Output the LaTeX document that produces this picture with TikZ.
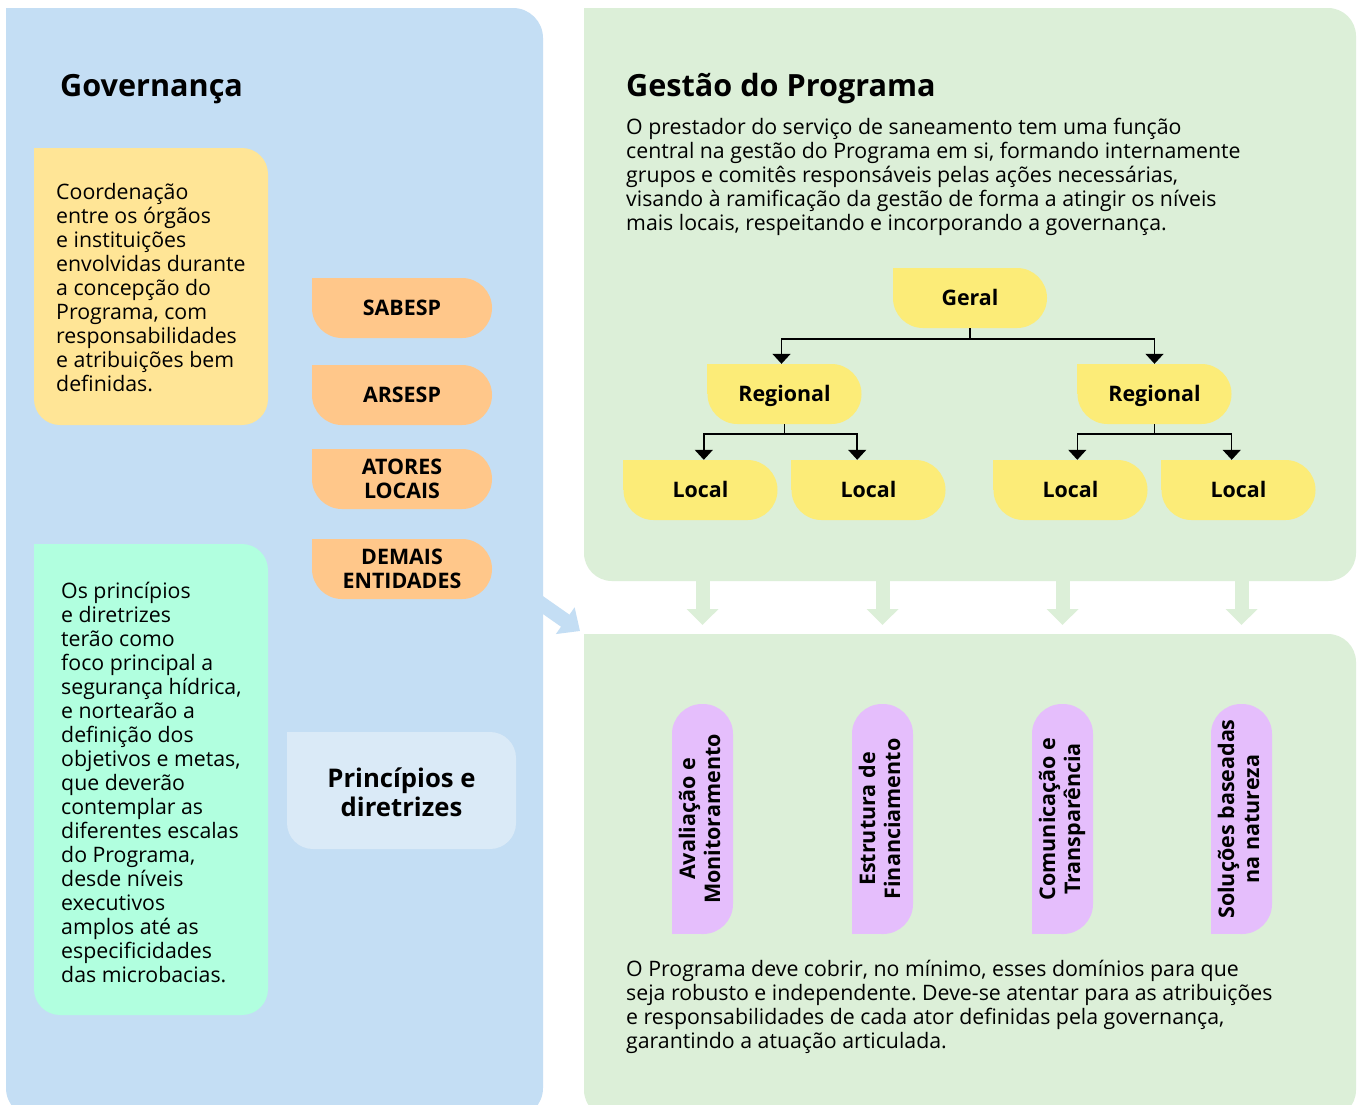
\documentclass[tikz,border=0pt]{standalone}
\usepackage{fontspec}
\usepackage{graphicx}
\setmainfont{Open Sans}
\usetikzlibrary{arrows.meta}
\frenchspacing

\definecolor{govblue}{HTML}{C4DEF4}
\definecolor{gestgreen}{HTML}{DCEFD8}
\definecolor{coordyellow}{HTML}{FFE596}
\definecolor{actororange}{HTML}{FFC78A}
\definecolor{princmint}{HTML}{B1FFDF}
\definecolor{princlight}{HTML}{DAEAF7}
\definecolor{treeyellow}{HTML}{FCEC78}
\definecolor{domainviolet}{HTML}{E5BEFC}

% panels at the back, square corner patches under the rounded node fills
\pgfdeclarelayer{panels}
\pgfdeclarelayer{corners}
\pgfsetlayers{panels,corners,main}

% rounded box whose top-left corner stays square
\newcommand{\sqtlbox}[6]{%
  \fill[#1, rounded corners=#6] (#2,#3) rectangle (#4,#5);
  \fill[#1] (#2,#3) rectangle ++(#6,#6);}

\tikzset{
  bodytext/.style={font=\fontsize{21.3}{24}\selectfont, align=left, inner sep=0, anchor=north west},
  heading/.style={font=\fontsize{30.6}{36}\selectfont\bfseries, inner sep=0, anchor=base west},
  boldlabel/.style={font=\fontsize{21.4}{24}\selectfont\bfseries, align=center, inner sep=0},
  actorpill/.style={boldlabel, fill=actororange, rounded corners=30, minimum width=180, minimum height=60},
  tierbox/.style={boldlabel, fill=treeyellow, rounded corners=30, minimum width=154, minimum height=60, text height=15.4, text depth=0},
  domainpill/.style={boldlabel, font=\fontsize{21.5}{25}\selectfont\bfseries, fill=domainviolet, rounded corners=30, minimum width=61, minimum height=230},
  conn/.style={draw=black, line width=1.5, -{Triangle[length=10,width=18]}},
  garrow/.style={draw=gestgreen, line width=14, -{Triangle[length=16,width=31]}},
  barrow/.style={draw=govblue, line width=14.7, -{Triangle[length=18,width=31.5]}},
}

\begin{document}
\begin{tikzpicture}[x=1pt,y=-1pt]
\useasboundingbox (0,0) rectangle (1362,1104);

% ---- panels ----
\begin{pgfonlayer}{panels}
\clip (0,0) rectangle (1362,1104);
\fill[white] (0,0) rectangle (1362,1104);
\sqtlbox{govblue}{6}{8}{543}{1118}{30}
\sqtlbox{gestgreen}{584}{8}{1356}{581}{28}
\sqtlbox{gestgreen}{584}{634}{1356}{1118}{28}
\end{pgfonlayer}

% ---- Governança ----
\node[heading] (govtitle) at (60,96) {Governança};

\sqtlbox{coordyellow}{34}{148}{268}{425}{26}
\node[bodytext] (coordtext) at (56,183) {Coordenação\\entre os órgãos\\e instituições\\envolvidas durante\\a concepção do\\Programa, com\\responsabilidades\\e atribuições bem\\definidas.};

\node[actorpill] (sabesp) at (402,308) {SABESP};
\node[actorpill] (arsesp) at (402,395) {ARSESP};
\node[actorpill] (atores) at (402,479) {ATORES\\LOCAIS};
\node[actorpill] (demais) at (402,569) {DEMAIS\\ENTIDADES};
\begin{pgfonlayer}{corners}
\foreach \n in {sabesp,arsesp,atores,demais}
  \fill[actororange] (\n.north west) rectangle ++(30,30);
\end{pgfonlayer}

\sqtlbox{princmint}{34}{544}{268}{1015}{26}
\node[bodytext] (princtext) at (61,582) {Os princípios\\e diretrizes\\terão como\\foco principal a\\segurança hídrica,\\e nortearão a\\definição dos\\objetivos e metas,\\que deverão\\contemplar as\\diferentes escalas\\do Programa,\\desde níveis\\executivos\\amplos até as\\especificidades\\das microbacias.};

\sqtlbox{princlight}{287}{732}{516}{849}{26}
\node[font=\fontsize{25.7}{29}\selectfont\bfseries, align=center, inner sep=0] (princ) at (401.5,792) {Princípios e\\diretrizes};

% ---- Gestão do Programa ----
\node[heading] (gesttitle) at (626,96) {Gestão do Programa};
\node[bodytext] (gesttext) at (626,118) {O prestador do serviço de saneamento tem uma função\\central na gestão do Programa em si, formando internamente\\grupos e comitês responsáveis pelas ações necessárias,\\visando à ramificação da gestão de forma a atingir os níveis\\mais locais, respeitando e incorporando a governança.};

\node[tierbox] (geral) at (970,298) {Geral};
\node[tierbox] (regL) at (784.5,394) {Regional};
\node[tierbox] (regR) at (1154.5,394) {Regional};
\node[tierbox] (locA) at (700.5,490) {Local};
\node[tierbox] (locB) at (868.5,490) {Local};
\node[tierbox] (locC) at (1070.5,490) {Local};
\node[tierbox] (locD) at (1238.5,490) {Local};
\begin{pgfonlayer}{corners}
\foreach \n in {geral,regL,regR,locA,locB,locC,locD}
  \fill[treeyellow] (\n.north west) rectangle ++(30,30);
\end{pgfonlayer}

\draw[conn] (geral.south) -- ++(0,11) -| ([xshift=-3]regL.north);
\draw[conn] (geral.south) -- ++(0,11) -| (regR.north);
\draw[conn] (regL.south) -- ++(0,10) -| ([xshift=-3.5]locA.north -| regL.west);
\draw[conn] (regL.south) -- ++(0,10) -| ([xshift=-4.5]locB.north -| regL.east);
\draw[conn] (regR.south) -- ++(0,10) -| (locC.north -| regR.west);
\draw[conn] (regR.south) -- ++(0,10) -| (locD.north -| regR.east);

% ---- domains ----
\node[domainpill] (domA) at (702.5,819) {\rotatebox{90}{\begin{tabular}{@{}c@{}}Avaliação e\\Monitoramento\end{tabular}}};
\node[domainpill] (domB) at (882.5,819) {\rotatebox{90}{\begin{tabular}{@{}c@{}}Estrutura de\\Financiamento\end{tabular}}};
\node[domainpill] (domC) at (1062.5,819) {\rotatebox{90}{\begin{tabular}{@{}c@{}}Comunicação e\\Transparência\end{tabular}}};
\node[domainpill] (domD) at (1241.5,819) {\rotatebox{90}{\begin{tabular}{@{}c@{}}Soluções baseadas\\na natureza\end{tabular}}};
\begin{pgfonlayer}{corners}
\foreach \n in {domA,domB,domC,domD}
  \fill[domainviolet] (\n.south west) rectangle ++(30,-30);
\end{pgfonlayer}

\node[bodytext] (domtext) at (626,960) {O Programa deve cobrir, no mínimo, esses domínios para que\\seja robusto e independente. Deve-se atentar para as atribuições\\e responsabilidades de cada ator definidas pela governança,\\garantindo a atuação articulada.};

% ---- flows between panels ----
\coordinate (topFoot) at (970,575);
\coordinate (lowHead) at (970,625);
\foreach \n in {domA,domB,domC,domD}
  \draw[garrow] (\n |- topFoot) -- (\n |- lowHead);

\coordinate (govOut) at (525,592.5);
\coordinate (lowCorner) at (580,631);
\draw[barrow] (govOut) -- (lowCorner);
\end{tikzpicture}
\end{document}
